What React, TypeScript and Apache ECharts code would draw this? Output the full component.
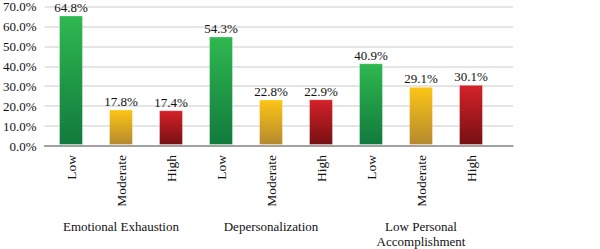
import React, { useEffect, useRef } from "react";
import * as echarts from "echarts";

const groups = ["Emotional Exhaustion", "Depersonalization", "Low Personal\nAccomplishment"];
const levels = ["Low", "Moderate", "High"];
const categories = ["Low", "Moderate", "High", "Low", "Moderate", "High", "Low", "Moderate", "High"];
const values = [64.8, 17.8, 17.4, 54.3, 22.8, 22.9, 40.9, 29.1, 30.1];
const yTicks = [0, 10, 20, 30, 40, 50, 60, 70];

const levelColors: Record<string, [string, string]> = {
  Low: ["#2fb850", "#117a3d"],
  Moderate: ["#fcc515", "#b5892f"],
  High: ["#d5222a", "#761012"],
};

export default function App() {
  const ref = useRef<HTMLDivElement>(null);
  useEffect(() => {
    if (!ref.current) return;
    const chart = echarts.init(ref.current, null, { renderer: "svg" });
    const font = "'Liberation Serif', 'Times New Roman', serif";
    const yMax = yTicks[yTicks.length - 1];
    chart.setOption({
      animation: false,
      textStyle: { fontFamily: font },
      grid: [
        { left: 40, right: 87, top: 5, bottom: 103, containLabel: false },
        { left: 46, right: 104, top: 5, bottom: 103, containLabel: false },
      ],
      xAxis: [
        {
          gridIndex: 0,
          type: "category",
          data: [""],
          axisLine: { show: true, lineStyle: { color: "#8c8c8c", width: 1.5 } },
          axisTick: { show: false },
          axisLabel: { show: false },
        },
        {
          gridIndex: 1,
          type: "category",
          data: categories,
          axisLine: { show: false },
          axisTick: { show: false },
          axisLabel: {
            rotate: 90,
            interval: 0,
            margin: 10,
            fontSize: 13.5,
            color: "#111",
            fontFamily: font,
          },
        },
        {
          gridIndex: 1,
          type: "category",
          data: groups,
          position: "bottom",
          axisLine: { show: false },
          axisTick: { show: false },
          axisLabel: {
            interval: 0,
            margin: 74,
            fontSize: 13,
            lineHeight: 15,
            color: "#111",
            fontFamily: font,
            verticalAlign: "top",
          },
        },
      ],
      yAxis: [
        {
          gridIndex: 0,
          type: "value",
          min: 0,
          max: yMax,
          interval: 10,
          axisLine: { show: false },
          axisTick: { show: false },
          axisLabel: {
            margin: 8,
            fontSize: 13,
            color: "#111",
            fontFamily: font,
            formatter: (v: number) => v.toFixed(1) + "%",
          },
          splitLine: { show: true, lineStyle: { color: "#dcdcdc", width: 1.5 } },
        },
        {
          gridIndex: 1,
          type: "value",
          min: 0,
          max: yMax,
          interval: 10,
          show: false,
          splitLine: { show: false },
        },
      ],
      series: [
        {
          type: "bar",
          xAxisIndex: 1,
          yAxisIndex: 1,
          barWidth: 24,
          data: values.map((v, i) => {
            const lvl = levels[i % 3];
            const [c1, c2] = levelColors[lvl];
            return {
              value: v,
              itemStyle: {
                color: new echarts.graphic.LinearGradient(0, 0, 0, 1, [
                  { offset: 0, color: c1 },
                  { offset: 1, color: c2 },
                ]),
                borderColor: "rgba(255,255,255,0.35)",
                borderWidth: 1,
              },
            };
          }),
          label: {
            show: true,
            position: "top",
            distance: 2,
            fontSize: 13,
            lineHeight: 12,
            color: "#111",
            fontFamily: font,
            formatter: (p: any) => p.value.toFixed(1) + "%",
          },
        },
      ],
    });
    return () => chart.dispose();
  }, []);
  return <div ref={ref} style={{ width: 600, height: 249, position: "absolute", left: 0, top: 0, background: "#fff" }} />;
}
